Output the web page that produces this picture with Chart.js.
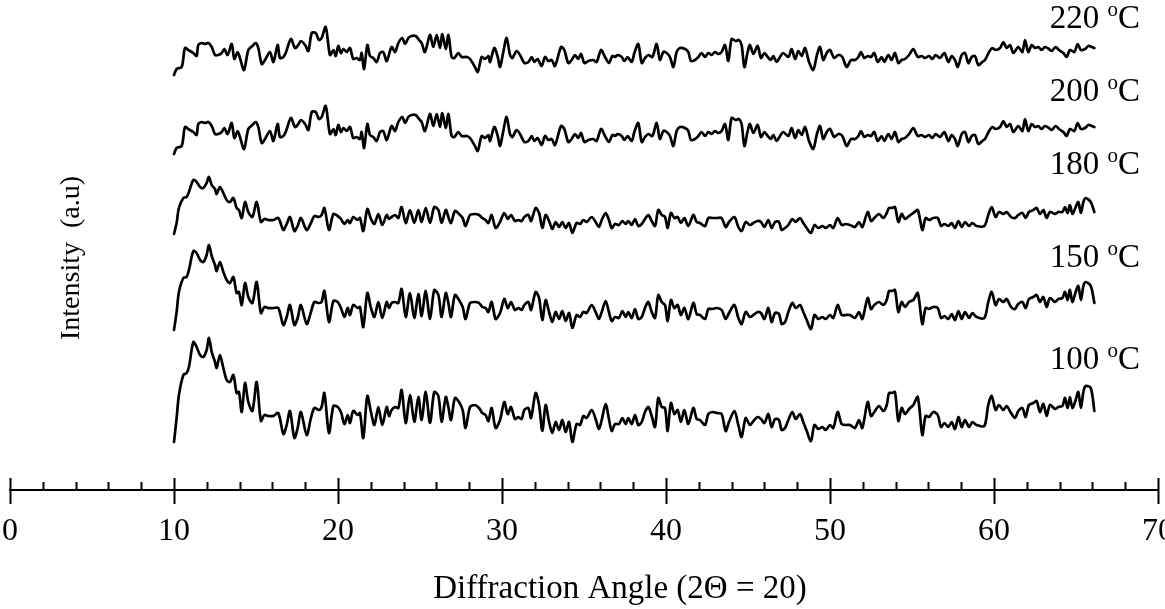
<!DOCTYPE html>
<html>
<head>
<meta charset="utf-8">
<script src="https://cdn.jsdelivr.net/npm/chart.js@4.4.0/dist/chart.umd.min.js"></script>
<style>
  html, body { margin: 0; padding: 0; background: #fff; }
  #wrap { width: 1165px; height: 609px; }
</style>
</head>
<body>
<div id="wrap"><canvas id="xrd" width="1165" height="609"></canvas></div>
<script>
// 2-theta positions (deg) for the 220 / 200 °C patterns
const anglesHigh = [
  10.0,10.16,10.47,10.67,10.87,11.18,11.38,11.48,11.69,11.89,12.09,12.3,12.5,12.7,12.91,13.07,13.27,13.52,13.68,13.88,
  14.02,14.27,14.53,14.78,14.98,15.14,15.35,15.55,15.85,16.06,16.32,16.46,16.67,16.81,17.13,17.38,17.58,17.74,17.99,18.19,
  18.4,18.64,18.84,19.0,19.25,19.51,19.72,19.86,20.02,20.18,20.33,20.53,20.73,20.93,21.14,21.34,21.44,21.59,21.79,21.95,
  22.15,22.36,22.56,22.76,22.97,23.27,23.48,23.68,23.92,24.09,24.29,24.49,24.74,24.94,25.1,25.3,25.61,25.81,26.02,26.22,
  26.36,26.57,26.73,26.93,27.09,27.34,27.54,27.85,28.05,28.35,
  28.52,28.76,28.96,29.17,29.27,29.53,29.74,29.88,30.08,30.28,30.49,30.63,30.89,31.1,31.36,31.61,31.81,31.97,32.17,32.42,
  32.62,32.83,33.03,33.23,33.6,33.8,34.04,34.25,34.45,34.65,34.82,35.02,35.26,35.57,35.77,36.04,36.28,36.52,36.73,36.89,
  37.05,37.3,37.46,37.66,37.91,38.07,38.31,38.52,38.72,38.92,39.17,39.43,39.63,39.84,40.04,40.24,40.45,40.65,40.85,41.16,
  41.36,41.52,41.77,41.97,42.17,42.38,42.58,42.78,42.99,43.19,43.39,43.6,43.8,44.0,44.25,44.45,44.61,44.78,44.98,45.12,
  45.33,45.59,45.79,46.0,46.2,46.4,46.54,46.75,46.95,47.15,
  47.46,47.66,47.87,48.07,48.27,48.48,48.72,48.98,49.19,49.39,49.59,49.8,50.0,50.26,50.51,50.75,51.02,51.28,51.52,51.73,
  51.89,52.09,52.3,52.5,52.7,52.91,53.15,53.31,53.56,53.76,53.96,54.17,54.37,54.57,54.82,55.08,55.35,55.59,55.79,56.04,
  56.24,56.44,56.71,56.97,57.22,57.42,57.62,57.79,58.03,58.23,58.44,58.64,58.84,59.04,59.29,59.45,59.7,59.9,60.1,60.37,
  60.57,60.77,60.98,61.18,61.48,61.73,61.89,62.09,62.3,62.5,62.7,62.91,63.11,63.35,63.52,63.76,63.96,64.23,64.43,64.63,
  64.9,65.1,65.3,65.55,65.75,65.96,66.12
];

// 2-theta positions (deg) for the 180 / 150 / 100 °C patterns
const anglesLow = [
  10.0,10.16,10.3,10.57,10.77,10.91,11.18,11.38,11.59,11.79,11.99,12.13,12.3,12.5,12.6,12.8,13.01,13.21,13.41,13.62,
  13.82,13.96,14.13,14.33,14.53,14.78,15.04,15.3,15.51,15.75,16.06,16.36,16.67,16.87,17.07,17.34,17.54,17.74,18.09,18.35,
  18.56,18.84,19.0,19.17,19.45,19.72,19.98,20.18,20.39,20.59,20.73,20.93,21.2,21.34,21.54,21.79,22.01,22.22,22.46,22.7,
  22.97,23.11,23.27,23.48,23.68,23.88,24.13,24.39,24.65,24.9,25.1,25.35,25.61,25.87,26.12,26.32,26.57,26.73,26.89,27.13,
  27.38,27.6,27.78,28.05,28.35,
  28.6,28.8,29.0,29.17,29.37,29.61,29.88,30.14,30.35,30.55,30.79,31.0,31.2,31.36,31.61,31.77,32.05,32.26,32.46,32.66,
  32.87,33.07,33.27,33.48,33.68,33.88,34.09,34.29,34.55,34.76,34.96,35.16,35.47,35.71,35.91,36.08,36.32,36.52,36.69,36.89,
  37.13,37.34,37.54,37.7,37.91,38.11,38.31,38.52,38.72,38.92,39.13,39.33,39.53,39.74,39.94,40.1,40.3,40.51,40.71,40.91,
  41.12,41.36,41.67,41.87,42.07,42.38,42.58,42.83,43.09,43.39,43.64,43.84,44.17,44.41,44.61,44.86,45.12,45.33,45.59,45.79,
  46.0,46.24,46.44,46.65,46.89,47.05,47.26,
  47.46,47.7,47.91,48.17,48.37,48.58,48.84,49.05,49.29,49.53,49.74,50.0,50.2,50.47,50.71,50.96,51.22,51.52,51.77,51.97,
  52.3,52.5,52.7,52.99,53.25,53.46,53.6,53.8,53.96,54.17,54.37,54.57,54.82,55.08,55.35,55.63,55.83,56.04,56.3,56.57,
  56.77,56.97,57.22,57.42,57.62,57.83,58.03,58.23,58.48,58.68,58.94,59.41,59.65,59.86,60.1,60.3,60.57,60.77,61.04,61.28,
  61.48,61.73,61.93,62.13,62.4,62.6,62.8,63.01,63.21,63.41,63.72,63.92,64.17,64.33,64.49,64.63,64.78,64.98,65.14,65.3,
  65.45,65.59,65.9,66.12
];

// intensities (a.u., already stacked)
const int220 = [
  415,421,423,442,440,437,434,445,447,446,447,443,435,435,437,441,435,446,431,438,
  432,420,440,444,447,442,426,430,438,428,445,432,433,437,451,442,445,449,445,439,
  457,457,450,452,463,435,440,434,444,437,441,438,442,431,432,430,437,421,445,434,
  432,428,437,438,429,443,438,447,452,446,452,454,454,450,447,438,455,443,455,442,
  456,441,455,433,432,437,433,433,431,423,
  418,433,431,434,428,442,433,423,438,452,435,432,439,435,427,428,433,428,431,424,
  433,429,430,424,443,440,427,430,435,431,436,427,429,430,428,440,433,427,434,433,
  435,433,429,433,428,437,446,427,432,435,433,446,430,438,437,433,423,438,442,441,
  438,429,430,433,437,433,437,435,438,436,438,445,429,451,449,450,445,423,438,445,
  436,444,432,437,433,430,434,428,433,437,
  433,441,431,439,434,442,428,420,434,443,430,437,440,432,435,433,423,430,430,433,
  438,432,434,433,437,428,433,428,435,430,437,427,430,431,435,441,433,434,432,434,
  431,435,432,437,428,434,430,423,435,437,427,433,434,425,428,430,438,442,440,442,
  448,442,445,437,443,438,450,438,445,442,443,440,443,441,439,443,440,437,433,440,
  438,446,440,441,444,443,442
];
const int200 = [
  336,342,344,363,361,358,355,366,368,367,368,364,356,356,358,362,356,367,352,359,
  353,341,361,365,368,363,347,351,359,349,366,353,354,358,372,363,366,370,366,360,
  378,378,371,373,384,356,361,355,365,358,362,359,363,352,353,351,358,342,366,355,
  353,349,358,359,350,364,359,368,373,367,373,375,375,371,368,359,376,364,376,363,
  377,362,376,354,353,358,354,354,352,344,
  339,354,352,355,349,363,354,344,359,373,356,353,360,356,348,349,354,349,352,345,
  354,350,351,345,364,361,348,351,356,352,357,348,350,351,349,361,354,348,355,354,
  356,354,350,354,349,358,367,348,353,356,354,367,351,359,358,354,344,359,363,362,
  359,350,351,354,358,354,358,356,359,357,359,366,350,372,370,371,366,344,359,366,
  357,365,353,358,354,351,355,349,354,358,
  354,362,352,360,355,363,349,341,355,364,351,358,361,353,356,354,344,351,351,354,
  359,353,355,354,358,349,354,349,356,351,358,348,351,352,356,362,354,355,353,355,
  352,356,353,358,349,355,351,344,356,358,348,354,355,346,349,351,359,363,361,363,
  369,363,366,358,364,359,371,359,366,363,364,361,364,362,360,364,361,358,354,361,
  359,367,361,362,365,364,363
];
const int180 = [
  256,267,282,292,293,298,310,308,303,302,307,313,305,301,296,303,297,290,288,292,
  282,280,272,288,278,273,288,268,271,270,270,272,260,266,273,259,264,272,260,267,
  274,273,275,282,260,276,274,271,266,270,267,273,270,272,259,281,271,266,276,265,
  275,271,273,275,272,283,267,280,267,280,268,282,267,283,280,267,280,273,267,279,
  276,272,264,275,276,
  275,272,270,267,275,262,268,277,271,275,269,270,269,273,275,269,282,277,262,275,
  269,261,268,263,268,262,267,257,267,266,270,268,273,268,263,270,277,270,262,266,
  265,269,266,269,265,271,264,266,271,275,269,264,280,275,273,262,277,272,273,267,
  272,264,275,268,267,264,272,272,272,272,263,268,273,263,259,268,265,267,269,268,
  263,270,262,268,268,260,262,
  265,271,268,272,267,262,257,265,262,264,262,265,262,272,265,266,265,263,268,263,
  278,269,272,276,272,277,282,282,283,268,276,271,274,277,280,260,272,270,272,272,
  264,266,264,267,262,269,263,268,264,267,264,264,275,283,273,278,276,278,273,272,
  275,277,272,278,280,282,276,280,272,278,276,278,278,283,277,285,276,283,288,277,
  288,292,288,278
];
const int150 = [
  160,178,198,212,213,220,239,237,230,228,235,245,234,225,219,228,218,210,207,213,
  197,198,185,207,193,187,208,177,183,182,182,182,165,173,185,165,172,185,166,178,
  188,187,188,199,168,189,188,182,173,182,175,185,182,183,163,197,182,173,188,172,
  188,182,187,188,187,201,173,197,172,196,174,199,171,200,195,173,197,187,173,195,
  190,183,171,187,188,
  187,183,182,178,188,171,177,191,182,188,180,182,180,185,188,180,198,192,170,190,
  178,168,178,171,179,169,177,162,175,173,178,177,185,178,171,178,189,178,169,173,
  172,179,173,178,172,181,171,173,182,188,178,172,195,188,185,169,190,182,185,175,
  182,171,187,176,175,171,181,181,182,180,171,177,185,172,166,178,173,175,178,177,
  171,182,168,177,176,166,168,
  178,187,182,185,178,170,161,175,171,173,171,175,172,185,175,175,175,172,178,171,
  192,181,185,188,185,190,199,199,200,178,188,183,188,190,197,166,182,181,183,182,
  172,174,171,176,170,179,171,178,172,177,173,172,188,198,185,191,188,191,183,181,
  186,188,182,191,193,195,188,193,183,192,188,191,192,198,190,200,188,198,204,190,
  204,208,204,187
];
const int100 = [
  48,72,95,115,117,123,148,143,135,133,140,152,138,128,122,135,122,110,108,115,
  97,98,78,107,88,79,108,69,75,74,74,77,56,65,79,52,62,78,55,72,
  82,80,83,97,57,84,83,78,66,75,67,79,75,77,52,94,78,65,83,65,
  83,74,80,83,82,100,67,95,68,93,70,98,67,98,94,68,93,83,70,92,
  88,80,62,83,85,
  82,77,75,69,82,62,70,88,76,83,71,73,71,80,82,72,97,85,59,85,
  68,57,68,60,70,58,68,48,66,65,74,72,80,71,61,70,86,71,59,66,
  66,72,66,72,66,75,65,68,78,83,74,63,92,83,82,59,87,76,80,68,
  80,66,82,71,70,65,76,78,77,76,59,68,79,65,53,72,65,69,73,71,
  67,76,63,71,70,60,62,
  70,78,71,76,68,59,49,65,61,63,60,65,62,78,66,65,65,62,70,62,
  88,74,78,84,79,85,97,97,98,69,82,76,81,85,93,55,74,73,78,75,
  63,67,63,68,61,73,63,70,63,68,65,64,85,94,80,85,80,84,77,72,
  79,82,73,85,87,89,78,86,74,85,81,83,84,92,82,93,82,90,98,82,
  98,104,102,79
];

const temps = ["220", "200", "180", "150", "100"];
const tickValues = [0, 10, 20, 30, 40, 50, 60, 70];
const xTitle = "Diffraction Angle (2Θ = 20)";
const yTitle = "Intensity  (a.u)";

const SERIF = '"Liberation Serif", "Times New Roman", serif';

function toPoints(angles, values) {
  return angles.map((a, i) => ({ x: a, y: values[i] }));
}

function makeSet(label, angles, values) {
  return {
    label: label,
    data: toPoints(angles, values),
    borderColor: "#000",
    borderWidth: 2.7,
    borderJoinStyle: "round",
    borderCapStyle: "round",
    pointRadius: 0,
    tension: 0.3,
    fill: false,
  };
}

// tick marks, temperature labels and axis titles
const xrdDecor = {
  id: "xrdDecor",
  afterDraw(chart, args, opts) {
    const { ctx, scales: { x, y } } = chart;
    const base = x.top;
    ctx.save();
    ctx.strokeStyle = "#000";
    ctx.lineWidth = 2;
    for (let v = 0; v <= 70; v += 2) {
      const px = Math.round(x.getPixelForValue(v)) + 0.5;
      const major = tickValues.includes(v);
      ctx.beginPath();
      ctx.moveTo(px, base - (major ? 12 : 8));
      ctx.lineTo(px, base + (major ? 14 : 0));
      ctx.stroke();
    }

    ctx.fillStyle = "#000";
    ctx.textBaseline = "alphabetic";
    const right = x.getPixelForValue(opts.labelAngle);
    temps.forEach((t, i) => {
      const py = y.getPixelForValue(opts.labelLevels[i]);
      const big = "33px " + SERIF;
      const small = "21px " + SERIF;
      ctx.font = big;
      const wNum = ctx.measureText(t + " ").width;
      const wC = ctx.measureText("C").width;
      ctx.font = small;
      const wO = ctx.measureText("o").width;
      let cx = right - (wNum + wO + wC);
      ctx.textAlign = "left";
      ctx.font = big;
      ctx.fillText(t + " ", cx, py);
      cx += wNum;
      ctx.font = small;
      ctx.fillText("o", cx, py - 12);
      cx += wO;
      ctx.font = big;
      ctx.fillText("C", cx, py);
    });

    // x title (sits right of the axis centre in the original)
    ctx.textAlign = "center";
    ctx.textBaseline = "middle";
    ctx.font = "33px " + SERIF;
    ctx.fillText(xTitle, opts.xTitleX, opts.xTitleY);

    ctx.translate(72, 258);
    ctx.rotate(-Math.PI / 2);
    ctx.font = "28px " + SERIF;
    ctx.fillText(yTitle, 0, 0);
    ctx.restore();
  }
};

new Chart(document.getElementById("xrd"), {
  type: "line",
  data: {
    datasets: [
      makeSet("220 °C", anglesHigh, int220),
      makeSet("200 °C", anglesHigh, int200),
      makeSet("180 °C", anglesLow, int180),
      makeSet("150 °C", anglesLow, int150),
      makeSet("100 °C", anglesLow, int100),
    ],
  },
  options: {
    responsive: false,
    animation: false,
    devicePixelRatio: 1,
    layout: { padding: { left: 10, right: 7, top: 0, bottom: 0 } },
    plugins: {
      legend: { display: false },
      tooltip: { enabled: false },
      xrdDecor: {
        labelAngle: 68.9,
        labelLevels: [462, 389, 316, 223, 121],
        xTitleX: 620,
        xTitleY: 589,
      },
    },
    scales: {
      x: {
        type: "linear",
        min: 0,
        max: 70,
        border: { display: true, color: "#000", width: 2 },
        grid: { display: true, drawOnChartArea: false, drawTicks: true, tickLength: 14, color: "rgba(0,0,0,0)" },
        ticks: {
          stepSize: 10,
          autoSkip: false,
          maxRotation: 0,
          padding: 8,
          color: "#000",
          font: { family: SERIF, size: 32 },
        },
        // keeps room for the title, which the plugin draws
        title: {
          display: true,
          text: xTitle,
          color: "rgba(0,0,0,0)",
          font: { family: SERIF, size: 33 },
          padding: { top: 11, bottom: 0 },
        },
        afterFit(scale) {
          scale.paddingLeft = 0;
          scale.paddingRight = 0;
        },
      },
      y: {
        type: "linear",
        display: false,
        min: 0,
        max: 490,
      },
    },
  },
  plugins: [xrdDecor],
});
</script>
</body>
</html>
